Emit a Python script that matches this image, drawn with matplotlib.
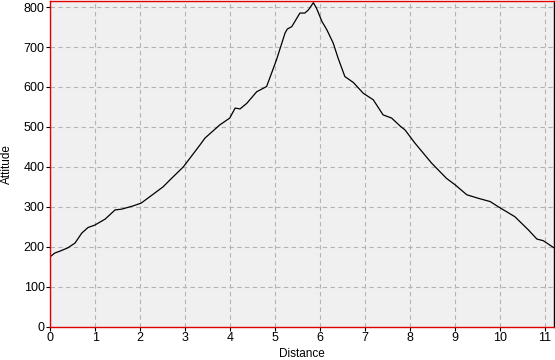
import matplotlib
matplotlib.use("Agg")
import matplotlib.pyplot as plt

distance = [0.0, 0.10, 0.22, 0.39, 0.55, 0.70, 0.84, 0.99, 1.22, 1.44, 1.59, 1.84,
            2.02, 2.26, 2.51, 2.66, 2.96, 3.33, 3.44, 3.77, 3.99, 4.11, 4.22, 4.37,
            4.59, 4.81, 5.03, 5.22, 5.27, 5.37, 5.55, 5.66, 5.74, 5.85, 5.92, 6.04,
            6.15, 6.29, 6.40, 6.55, 6.74, 6.96, 7.18, 7.40, 7.59, 7.78, 7.89, 8.11,
            8.48, 8.81, 9.00, 9.26, 9.52, 9.78, 9.96, 10.33, 10.63, 10.82, 10.96, 11.20]
altitude = [175, 184, 189, 197, 209, 234, 248, 254, 269, 292, 294, 302,
            309, 329, 350, 367, 400, 455, 472, 505, 522, 547, 545, 559,
            588, 601, 668, 735, 745, 751, 785, 785, 793, 811, 797, 764,
            743, 710, 672, 626, 611, 584, 568, 530, 522, 502, 492, 459,
            409, 371, 355, 330, 321, 313, 300, 275, 242, 219, 215, 197]
x_ticks = list(range(0, 12))
y_ticks = list(range(0, 900, 100))

plt.rcParams['font.family'] = ['Liberation Sans', 'DejaVu Sans']

fig = plt.figure(figsize=(5.55, 3.6), dpi=100)
fig.patch.set_facecolor('white')
ax = fig.add_axes([0.0906, 0.093, 0.9076, 0.904])
ax.set_facecolor('#f0f0f0')

ax.plot(distance, altitude, color='black', linewidth=0.9)

ax.set_xlim(0, 11.2)
ax.set_ylim(0, 815)
ax.set_xticks(x_ticks)
ax.set_yticks(y_ticks)
ax.grid(True, color='#b4b4b4', linestyle=(0, (4, 3)), linewidth=0.8)
ax.set_axisbelow(True)

for s in ['left', 'bottom', 'top']:
    ax.spines[s].set_color('#e00000')
    ax.spines[s].set_linewidth(1.0)
ax.spines['right'].set_color('black')
ax.spines['right'].set_linewidth(1.0)

ax.tick_params(axis='both', labelsize=9, length=3, width=0.8, color='black', pad=1)
ax.set_xlabel('Distance', fontsize=8.5, labelpad=3)
ax.set_ylabel('Attitude', fontsize=8.5)
ax.yaxis.set_label_coords(-0.074, 0.5)

fig.savefig('out.png', dpi=100)
